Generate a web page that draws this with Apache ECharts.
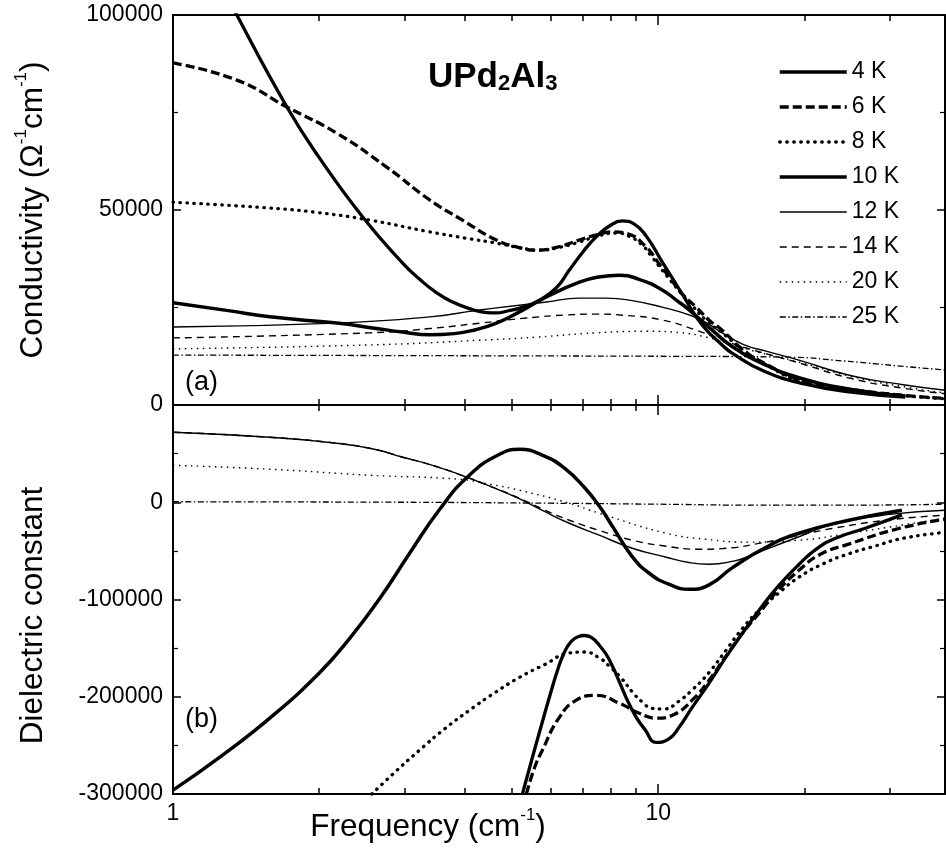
<!DOCTYPE html>
<html>
<head>
    <meta charset="utf-8">
    <title>UPd2Al3</title>
    <script src="https://cdn.jsdelivr.net/npm/echarts@6/dist/echarts.min.js"></script>
    <style>html, body { margin: 0; padding: 0; background: #fff; }</style>
</head>
<body>
    <div id="main" style="width: 946px;height:858px;"></div>
    <script>
        // frequency (cm^-1) / value pairs
        var temps = ['4 K', '6 K', '8 K', '10 K', '12 K', '14 K', '20 K', '25 K'];

        // (a) conductivity
        var sig4K = [[1,134000],[1.2,113000],[1.354,100000],[1.717,76400],[2.0,63500],[2.46,48200],[2.974,36400],[3.22,32300],[3.49,28800],[3.77,26400],[4.08,24700],[4.43,23700],[4.64,23600],[4.89,24100],[5.27,25100],[5.69,26900],[6.16,30000],[6.56,34600],[7.04,39700],[7.45,43100],[7.93,45900],[8.43,47200],[8.93,46400],[9.45,43300],[10.19,36700],[11.2,28500],[12.32,20500],[13.54,15400],[14.2,13300],[16.5,8700],[20,5400],[25,3300],[32.3,2000]];
        var sig6K = [[1,87700],[1.354,83300],[1.717,76400],[2.175,69700],[2.756,61000],[3.38,52600],[3.95,47400],[4.64,42300],[5.2,40300],[5.61,39700],[6.2,40500],[6.88,42300],[7.5,43700],[8.04,44400],[8.6,44000],[9.45,40500],[10.0,36500],[10.54,32800],[11.2,28500],[11.97,25100],[12.8,21500],[13.54,19200],[15,14000],[16.68,10500],[19.5,6500],[25,4000],[32,2500],[39,1700]];
        var sig8K = [[1,52000],[1.583,50500],[2.0,49300],[2.543,47400],[3.38,44400],[4.0,42800],[4.64,41500],[5.2,40300],[5.69,39700],[6.2,40300],[6.88,41800],[7.5,43300],[8.2,44100],[8.7,43300],[9.27,41000],[9.7,38000],[10.19,34600],[11.0,29500],[11.75,25500],[12.6,21500],[13.54,18500],[15,14000],[16.68,10300],[19.5,6300],[25,3800],[32,2400],[39,1600]];
        var sig10K = [[1,26200],[1.3,24200],[1.583,22600],[2.175,21000],[2.6,19700],[2.974,18700],[3.38,18000],[3.8,18300],[4.2,19300],[4.64,21000],[5.2,24000],[5.88,27700],[6.88,31500],[7.6,32900],[8.31,33300],[9.1,32300],[10.19,29500],[11.0,26500],[11.58,24400],[12.92,19200],[14.2,15000],[16.5,10500],[19.5,7000],[25,4000],[32.3,2300]];
        var sig12K = [[1,20000],[2.175,21000],[3.38,22600],[4.2,24200],[4.64,24900],[5.88,26400],[6.88,27400],[7.8,27400],[8.72,26900],[10.19,25100],[11.58,23100],[12.6,21000],[13.54,18500],[15,15500],[16.68,13800],[19.5,11500],[25,7500],[32,5200],[39,3800]];
        var sig14K = [[1,17200],[2.543,18500],[3.38,19600],[4.3,21000],[5.35,22300],[6.5,23100],[7.45,23300],[8.5,23000],[10.19,21800],[11.97,19200],[13.54,16700],[15,14800],[19.5,10800],[25,6800],[32,4300],[39,2900]];
        var sig20K = [[1,14400],[2.543,15400],[4.28,16600],[5.61,17400],[7.45,18500],[9.5,18900],[11.2,18500],[12.56,17400],[14.2,15500],[16,13600],[19.5,11000],[25,7300],[32,4700],[39,3100]];
        var sig25K = [[1,12800],[5,12600],[10,12500],[15,12400],[19.5,12200],[23,11500],[26.8,10800],[32,9900],[39,9000]];

        // (b) dielectric constant
        var eps4K = [[5.25,-300000],[5.5,-263000],[5.77,-226000],[5.995,-197000],[6.2,-173000],[6.41,-154000],[6.62,-143000],[6.85,-138000],[7.04,-137000],[7.28,-139000],[7.56,-147000],[7.93,-162000],[8.84,-214000],[9.4,-234000],[9.91,-247000],[10.54,-243000],[11.02,-232000],[11.75,-211000],[12.73,-186000],[13.8,-159000],[14.9,-135000],[16.14,-111000],[17.7,-86000],[19.5,-64000],[21.2,-48000],[23.2,-37000],[26.8,-26500],[31.8,-13000]];
        var eps6K = [[5.35,-300000],[5.56,-273000],[5.77,-255000],[6.26,-221000],[6.78,-203500],[7.45,-198500],[8.31,-206600],[9.14,-217000],[9.91,-222000],[10.8,-218000],[11.75,-203500],[12.73,-183000],[13.8,-158000],[14.9,-135000],[16.14,-114000],[17.7,-90000],[19.5,-70000],[21.5,-54000],[24.7,-43000],[31.3,-27000],[39,-17500]];
        var eps8K = [[2.57,-300000],[2.86,-278000],[3.22,-255000],[3.63,-233000],[4.08,-214000],[4.6,-196000],[5.18,-180000],[5.83,-167000],[6.56,-155000],[7.04,-154000],[7.56,-160000],[7.93,-168600],[8.4,-181000],[8.84,-195000],[9.3,-206000],[9.72,-212000],[10.3,-212500],[11.0,-205000],[11.75,-193000],[12.73,-175000],[13.8,-152000],[14.9,-130000],[16.14,-111000],[17.8,-92500],[19.5,-77000],[22,-62700],[24.7,-53000],[28,-45000],[32,-37000],[39,-31000]];
        var eps10K = [[1,-296000],[1.249,-262000],[1.583,-222000],[2.007,-175000],[2.313,-140000],[2.667,-99000],[3.074,-52500],[3.54,-7700],[4.08,27800],[4.71,49300],[5.18,54400],[5.83,47400],[6.41,35000],[7.04,15400],[7.56,-3900],[8.1,-27000],[8.84,-56000],[9.58,-73000],[10.54,-84500],[11.58,-89500],[12.73,-85000],[14.2,-67500],[16.68,-46300],[19.5,-31900],[24.7,-18500],[31.8,-8200]];
        var eps12K = [[1,72000],[1.583,66800],[2.175,60700],[2.6,54500],[2.974,46300],[3.4,38500],[3.9,28500],[4.5,16500],[5.18,3500],[5.83,-9500],[6.56,-21600],[7.56,-33900],[8.84,-47300],[10.39,-56500],[11.58,-62000],[12.73,-63700],[14.3,-60500],[15.4,-55500],[16.68,-48500],[19.5,-35500],[22.8,-23000],[30,-12500],[39,-8200]];
        var eps14K = [[1,72000],[1.583,66800],[2.175,60700],[2.6,54500],[2.974,46300],[3.4,38500],[3.9,28500],[4.5,16500],[5.18,4000],[5.83,-8000],[6.56,-18500],[7.56,-29000],[8.84,-39000],[10.39,-45200],[12.14,-48300],[13.6,-47500],[16.68,-41000],[19.5,-34000],[22.8,-27000],[30,-18000],[39,-13400]];
        var eps20K = [[1,38000],[1.583,34000],[2.54,27800],[3.9,23600],[4.5,18500],[5.18,12300],[6.56,-1000],[7.56,-11300],[10.39,-31900],[12.5,-38000],[15.39,-41000],[19.5,-39000],[24.7,-32000],[39,-16400]];
        var eps25K = [[1,500],[3,0],[6,-1000],[10,-2000],[16,-3000],[25,-3000],[39,-2000]];

        var sigma = [sig4K, sig6K, sig8K, sig10K, sig12K, sig14K, sig20K, sig25K];
        var epsilon = [eps4K, eps6K, eps8K, eps10K, eps12K, eps14K, eps20K, eps25K];

        var majorFreq = [1, 10];
        var minorFreq = [2, 3, 4, 5, 6, 7, 8, 9, 20, 30];

        var FONT = 'Liberation Sans, Arial, Helvetica, sans-serif';

        var lineStyles = [
            { color: '#000', width: 3.3, type: 'solid' },
            { color: '#000', width: 3.3, type: [9, 4] },
            { color: '#000', width: 3.3, type: [0.5, 6.5], cap: 'round' },
            { color: '#000', width: 3.5, type: 'solid' },
            { color: '#000', width: 1.4, type: 'solid' },
            { color: '#000', width: 1.4, type: [7, 5] },
            { color: '#000', width: 1.4, type: [1.5, 4.5] },
            { color: '#000', width: 1.3, type: [6, 2.5, 1.5, 2.5] }
        ];

        var chartDom = document.getElementById('main');
        var myChart = echarts.init(chartDom);

        function xAx(grid, pos, major, labels) {
            return {
                type: 'log', logBase: 10, gridIndex: grid, position: pos,
                min: 1, max: 39,
                axisLine: { show: major, onZero: false, lineStyle: { color: '#000', width: 2 } },
                axisTick: { show: true, inside: true, length: major ? 10 : 6,
                    customValues: major ? majorFreq : minorFreq,
                    lineStyle: { color: '#000', width: 1.5 } },
                axisLabel: { show: labels, customValues: majorFreq, color: '#000',
                    fontFamily: FONT, fontSize: 23, margin: 8 },
                splitLine: { show: false }
            };
        }

        function yAx(grid, pos, min, max, labels) {
            return {
                type: 'value', gridIndex: grid, position: pos,
                min: min, max: max, interval: grid === 0 ? 50000 : 100000,
                axisLine: { show: true, onZero: false, lineStyle: { color: '#000', width: 2 } },
                axisTick: { show: true, inside: true, length: 8, lineStyle: { color: '#000', width: 1.5 } },
                minorTick: { show: true, splitNumber: 2, length: 5, lineStyle: { color: '#000', width: 1.2 } },
                axisLabel: { show: labels, color: '#000', fontFamily: FONT, fontSize: 23, margin: 10,
                    formatter: function (v) { return (grid === 1 && v > 0) ? '' : String(v); } },
                splitLine: { show: false }
            };
        }

        var nameRich = {
            n: { fontFamily: FONT, fontSize: 31.5, lineHeight: 36, color: '#000', verticalAlign: 'bottom' },
            s: { fontFamily: FONT, fontSize: 17, lineHeight: 18, color: '#000', verticalAlign: 'top' }
        };

        var xAxes = [
            xAx(0, 'bottom', true, false), xAx(0, 'bottom', false, false),
            xAx(0, 'top', true, false), xAx(0, 'top', false, false),
            xAx(1, 'bottom', true, true), xAx(1, 'bottom', false, false),
            xAx(1, 'top', true, false), xAx(1, 'top', false, false)
        ];
        xAxes[4].name = '{n|Frequency (cm}{s|-1}{n|)}';
        xAxes[4].nameLocation = 'middle';
        xAxes[4].nameGap = 13;
        xAxes[4].nameMoveOverlap = false;
        xAxes[4].nameTextStyle = { padding: [0, 262, 0, 0], rich: nameRich };

        var yAxes = [
            yAx(0, 'left', 0, 100000, true), yAx(0, 'right', 0, 100000, false),
            yAx(1, 'left', -300000, 100000, true), yAx(1, 'right', -300000, 100000, false)
        ];
        yAxes[0].name = '{n|Conductivity (Ω}{s|-1}{n|cm}{s|-1}{n|)}';
        yAxes[0].nameLocation = 'middle';
        yAxes[0].nameGap = 124;
        yAxes[0].nameMoveOverlap = false;
        yAxes[0].nameTextStyle = { rich: nameRich };
        yAxes[2].name = '{n|Dielectric constant}';
        yAxes[2].nameLocation = 'middle';
        yAxes[2].nameGap = 124;
        yAxes[2].nameMoveOverlap = false;
        yAxes[2].nameTextStyle = { padding: [0, 32, 0, 0], rich: nameRich };

        var series = [];
        temps.forEach(function (t, i) {
            series.push({
                name: t, type: 'line', xAxisIndex: 0, yAxisIndex: 0,
                data: sigma[i], symbol: 'none', smooth: 0.5, clip: true,
                itemStyle: { color: '#000' }, lineStyle: lineStyles[i]
            });
        });
        temps.forEach(function (t, i) {
            series.push({
                name: t, type: 'line', xAxisIndex: 4, yAxisIndex: 2,
                data: epsilon[i], symbol: 'none', smooth: 0.5, clip: true,
                itemStyle: { color: '#000' }, lineStyle: lineStyles[i]
            });
        });

        var option = {
            animation: false,
            backgroundColor: '#fff',
            title: {
                text: '{b|UPd}{s|2}{b|Al}{s|3}',
                left: 428, top: 55, padding: 0,
                textStyle: {
                    rich: {
                        b: { fontFamily: FONT, fontWeight: 'bold', fontSize: 35, lineHeight: 40, color: '#000', verticalAlign: 'bottom' },
                        s: { fontFamily: FONT, fontWeight: 'bold', fontSize: 22, lineHeight: 16, color: '#000', verticalAlign: 'bottom' }
                    }
                }
            },
            legend: {
                data: temps.map(function (t, i) {
                    return { name: t, lineStyle: lineStyles[i], itemStyle: { opacity: 0 } };
                }),
                orient: 'vertical', left: 778, top: 60,
                itemWidth: 67, itemHeight: 24, itemGap: 11, padding: 0,
                selectedMode: false,
                itemStyle: { opacity: 0 },
                textStyle: { fontFamily: FONT, fontSize: 23, color: '#000', lineHeight: 24 }
            },
            graphic: [
                { type: 'text', left: 185, top: 369, style: { text: '(a)', font: '27px ' + FONT, fill: '#000' } },
                { type: 'text', left: 185, top: 706, style: { text: '(b)', font: '27px ' + FONT, fill: '#000' } }
            ],
            grid: [
                { left: 173, top: 15, width: 772, height: 390 },
                { left: 173, top: 405, width: 772, height: 389 }
            ],
            xAxis: xAxes,
            yAxis: yAxes,
            series: series
        };

        option && myChart.setOption(option);
    </script>
</body>
</html>
